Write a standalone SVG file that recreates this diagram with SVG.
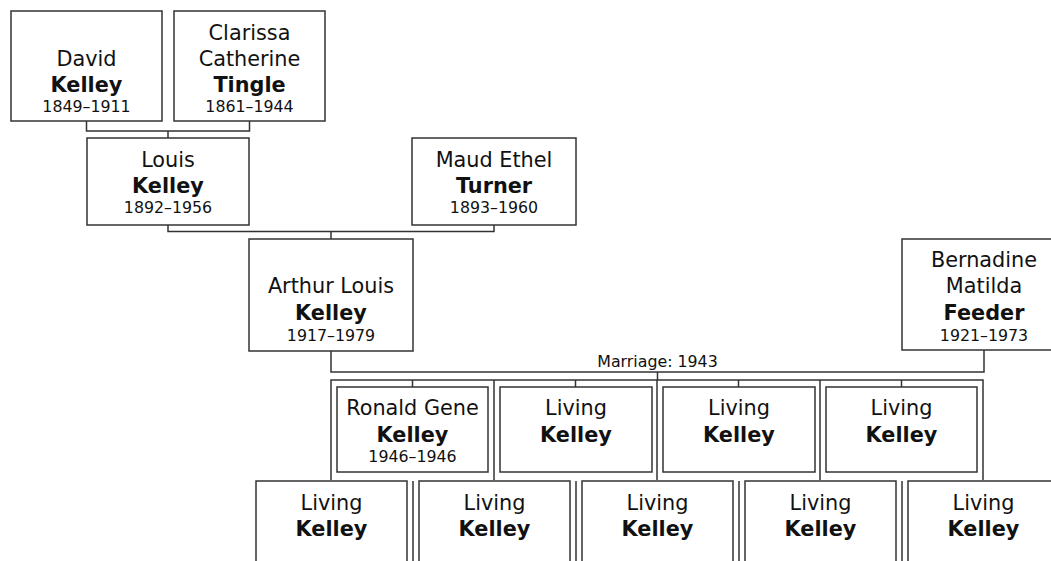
<svg xmlns="http://www.w3.org/2000/svg" width="1051" height="561" viewBox="0 0 1051 561">
<style>
.box{fill:#fff;stroke:#333;stroke-width:1.5}
.ln{fill:none;stroke:#333;stroke-width:1.5}
text{font-family:"DejaVu Sans",Verdana,sans-serif;fill:#111;text-anchor:middle}
.n{font-size:20.8px}
.s{font-size:20.8px;font-weight:bold}
.d{font-size:15.8px}
.m{font-size:15.8px}
</style>
<rect x="0" y="0" width="1051" height="561" fill="#fff"/>
<g id="connectors">
<path class="ln" d="M86.5,121V131H249.5V121M168,131V138"/>
<path class="ln" d="M168,225V231.5H494V225M331,231.5V239"/>
<path class="ln" d="M331,351V372H984V350M657.5,372V380"/>
<text class="m" x="657.5" y="367">Marriage: 1943</text>
<path class="ln" d="M331,480V380H983V480M494,380V480M657,380V480M820,380V480"/>
<path class="ln" d="M412.5,380V387M575.5,380V387M738.5,380V387M901.5,380V387"/>
<path class="ln" d="M413,481V561M576,481V561M739,481V561M902,481V561"/>
</g>
<g id="david"><rect class="box" x="11" y="11" width="151" height="110"/>
<text class="n" x="86.5" y="66">David</text><text class="s" x="86.5" y="92">Kelley</text><text class="d" x="86.5" y="112">1849–1911</text></g>
<g id="clarissa"><rect class="box" x="174" y="11" width="151" height="110"/>
<text class="n" x="249.5" y="39.5">Clarissa</text><text class="n" x="249.5" y="65.5">Catherine</text><text class="s" x="249.5" y="91.5">Tingle</text><text class="d" x="249.5" y="112">1861–1944</text></g>
<g id="louis"><rect class="box" x="87" y="138" width="162" height="87"/>
<text class="n" x="168" y="167">Louis</text><text class="s" x="168" y="193">Kelley</text><text class="d" x="168" y="213">1892–1956</text></g>
<g id="maud"><rect class="box" x="412" y="138" width="164" height="87"/>
<text class="n" x="494" y="167">Maud Ethel</text><text class="s" x="494" y="193">Turner</text><text class="d" x="494" y="213">1893–1960</text></g>
<g id="arthur"><rect class="box" x="249" y="239" width="164" height="112"/>
<text class="n" x="331" y="293">Arthur Louis</text><text class="s" x="331" y="319.5">Kelley</text><text class="d" x="331" y="340.5">1917–1979</text></g>
<g id="bernadine"><rect class="box" x="902" y="239" width="164" height="111"/>
<text class="n" x="984" y="266.5">Bernadine</text><text class="n" x="984" y="293">Matilda</text><text class="s" x="984" y="319.5">Feeder</text><text class="d" x="984" y="341">1921–1973</text></g>
<g id="ronald"><rect class="box" x="337" y="387" width="151" height="85"/>
<text class="n" x="412.5" y="415">Ronald Gene</text><text class="s" x="412.5" y="441.5">Kelley</text><text class="d" x="412.5" y="461.5">1946–1946</text></g>
<g id="child2"><rect class="box" x="500" y="387" width="152" height="85"/>
<text class="n" x="576" y="415">Living</text><text class="s" x="576" y="441.5">Kelley</text></g>
<g id="child3"><rect class="box" x="663" y="387" width="152" height="85"/>
<text class="n" x="739" y="415">Living</text><text class="s" x="739" y="441.5">Kelley</text></g>
<g id="child4"><rect class="box" x="826" y="387" width="151" height="85"/>
<text class="n" x="901.5" y="415">Living</text><text class="s" x="901.5" y="441.5">Kelley</text></g>
<g id="child5"><rect class="box" x="256" y="481" width="151" height="85"/>
<text class="n" x="331.5" y="510">Living</text><text class="s" x="331.5" y="536">Kelley</text></g>
<g id="child6"><rect class="box" x="419" y="481" width="151" height="85"/>
<text class="n" x="494.5" y="510">Living</text><text class="s" x="494.5" y="536">Kelley</text></g>
<g id="child7"><rect class="box" x="582" y="481" width="151" height="85"/>
<text class="n" x="657.5" y="510">Living</text><text class="s" x="657.5" y="536">Kelley</text></g>
<g id="child8"><rect class="box" x="745" y="481" width="151" height="85"/>
<text class="n" x="820.5" y="510">Living</text><text class="s" x="820.5" y="536">Kelley</text></g>
<g id="child9"><rect class="box" x="908" y="481" width="151" height="85"/>
<text class="n" x="983.5" y="510">Living</text><text class="s" x="983.5" y="536">Kelley</text></g>
</svg>
